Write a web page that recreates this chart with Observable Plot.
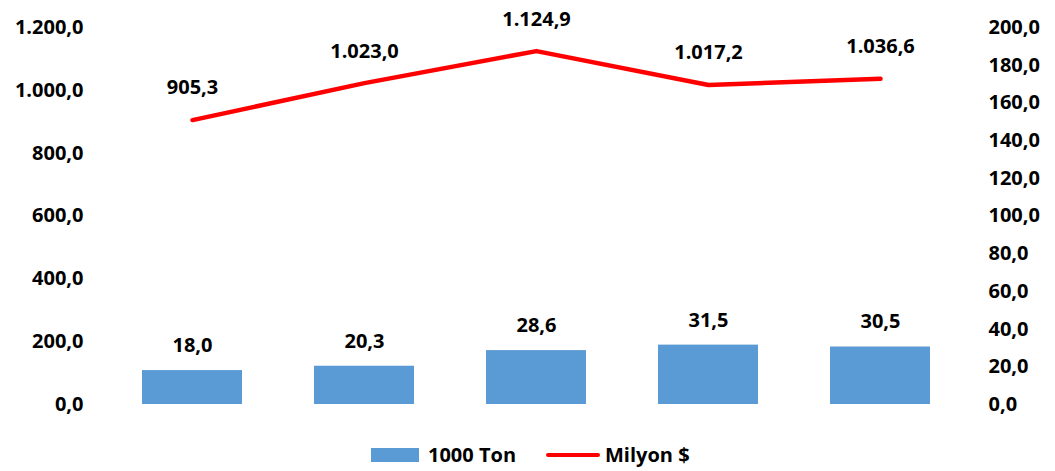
<!DOCTYPE html>
<html>
<head>
<meta charset="utf-8">
<script src="https://cdn.jsdelivr.net/npm/d3@7"></script>
<script src="https://cdn.jsdelivr.net/npm/@observablehq/plot@0.6"></script>
<style>
  html, body { margin: 0; padding: 0; background: #fff; }
  body { width: 1055px; height: 471px; overflow: hidden; font-family: "Open Sans", sans-serif; }
  #chart svg { display: block; }
  #legend { position: absolute; top: 442px; left: 0; width: 1055px; height: 26px; }
  #legend span { position: absolute; }
  .sw-bar { left: 371px; top: 6px; width: 48px; height: 14px; background: #5B9BD5; }
  .sw-line { left: 546px; top: 11px; width: 54px; height: 4px; background: #FF0000; border-radius: 2px; }
  .lbl { font-weight: 700; font-size: 20px; color: #000; line-height: 26px; }
</style>
</head>
<body>
<div id="chart"></div>
<div id="legend">
  <span class="sw-bar"></span><span class="lbl" style="left:428px">1000 Ton</span>
  <span class="sw-line"></span><span class="lbl" style="left:605px">Milyon $</span>
</div>
<script>
const categories = ["1", "2", "3", "4", "5"];
const tonValues = [18.0, 20.3, 28.6, 31.5, 30.5];       // 1000 Ton (right axis)
const usdValues = [905.3, 1023.0, 1124.9, 1017.2, 1036.6]; // Milyon $ (left axis)
const leftTicks = [0, 200, 400, 600, 800, 1000, 1200];
const rightTicks = [0, 20, 40, 60, 80, 100, 120, 140, 160, 180, 200];

const ratio = 1200 / 200;
const loc = d3.formatLocale({decimal: ",", thousands: ".", grouping: [3], currency: ["", ""]});
const fmt = loc.format(",.1f");

const data = categories.map((c, i) => ({cat: c, ton: tonValues[i], usd: usdValues[i]}));

const chart = Plot.plot({
  width: 1055,
  height: 425,
  marginTop: 27,
  marginBottom: 21,
  marginLeft: 106,
  marginRight: 89,
  style: {fontFamily: "'Open Sans', sans-serif", fontSize: "20px", fontWeight: "700", color: "#000"},
  x: {domain: categories, paddingInner: 0.42, paddingOuter: 0.21, axis: null},
  y: {domain: [0, 1200]},
  marks: [
    Plot.axisY({ticks: leftTicks, tickFormat: fmt, tickSize: 0, tickPadding: 23, anchor: "left", label: null, fontWeight: 700, fontSize: 20}),
    Plot.axisY({ticks: rightTicks.map(t => t * ratio), tickFormat: d => fmt(d / ratio), tickSize: 0, tickPadding: 22, anchor: "right", label: null, textAnchor: "start", fontWeight: 700, fontSize: 20}),
    Plot.barY(data, {x: "cat", y: d => d.ton * ratio, fill: "#5B9BD5"}),
    Plot.text(data, {x: "cat", y: d => d.ton * ratio, text: d => fmt(d.ton), dy: -25, fontWeight: 700, fontSize: 20, fill: "#000"}),
    Plot.line(data, {x: "cat", y: "usd", stroke: "#FF0000", strokeWidth: 4.5, strokeLinecap: "round"}),
    Plot.text(data, {x: "cat", y: "usd", text: d => fmt(d.usd), dy: -32, fontWeight: 700, fontSize: 20, fill: "#000"})
  ]
});
document.getElementById("chart").appendChild(chart);
</script>
</body>
</html>
